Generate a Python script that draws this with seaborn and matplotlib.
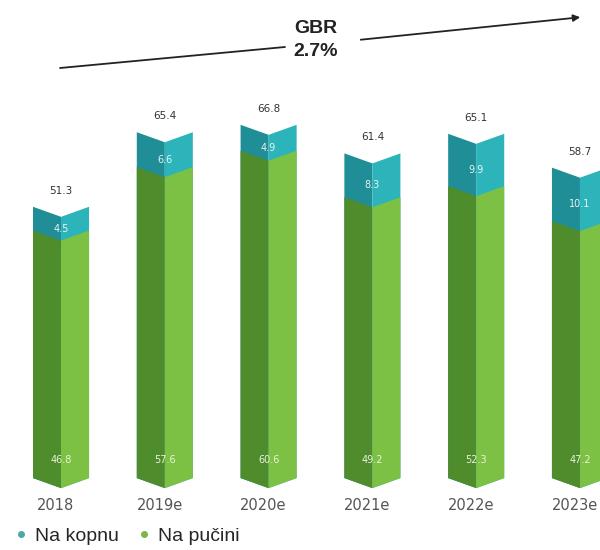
import numpy as np
import pandas as pd
import matplotlib
matplotlib.use("Agg")
import matplotlib.pyplot as plt
from matplotlib.patches import Polygon
from matplotlib.lines import Line2D
import seaborn as sns

years = ['2018', '2019e', '2020e', '2021e', '2022e', '2023e']
totals = [51.3, 65.4, 66.8, 61.4, 65.1, 58.7]
onshore = [4.5, 6.6, 4.9, 8.3, 9.9, 10.1]        # Na kopnu (teal)
offshore_labels = [46.8, 57.6, 60.6, 49.2, 52.3, 47.2]  # Na pučini (green)
cagr_label = 'GBR\n2.7%'
legend_labels = ['Na kopnu', 'Na pučini']

teal_dark, teal_light = '#1f8e96', '#2db4bb'
green_dark, green_light = '#4e8c2c', '#7cc143'

sns.set_style('white')
plt.rcParams['font.family'] = ['Liberation Sans', 'DejaVu Sans']

# long table: one row per bar face
rows = []
for y, t, o in zip(years, totals, onshore):
    for face in ['L', 'R']:
        rows.append({'year': y, 'face': face, 'total': t, 'green': t - o})
df = pd.DataFrame(rows)

fig = plt.figure(figsize=(6, 5.5), dpi=100)
ax = fig.add_axes([0, 0, 1, 1])

sns.barplot(data=df, x='year', y='total', hue='face', palette=[teal_dark, teal_light],
            width=0.54, gap=0, legend=False, ax=ax, linewidth=0, saturation=1)
sns.barplot(data=df, x='year', y='green', hue='face', palette=[green_dark, green_light],
            width=0.54, gap=0, legend=False, ax=ax, linewidth=0, saturation=1)

# turn the flat bars into a prism look (V notch on top, point at bottom)
d = 1.9
for p in list(ax.patches):
    x, y0, w, h = p.get_x(), p.get_y(), p.get_width(), p.get_height()
    c = p.get_facecolor()
    centre = round(x + w)  # left face ends at bar centre
    if abs(x + w - centre) < 1e-6:
        pts = [(x, y0), (x + w, y0 - d), (x + w, y0 + h - d), (x, y0 + h)]
    else:
        pts = [(x, y0 - d), (x + w, y0), (x + w, y0 + h), (x, y0 + h - d)]
    p.set_visible(False)
    ax.add_patch(Polygon(pts, closed=True, facecolor=c, edgecolor='none'))

ax.set_xlim(-0.588, 5.193)
ax.set_ylim(-13.6, 90.4)
ax.axis('off')

for i, (t, o, g) in enumerate(zip(totals, onshore, offshore_labels)):
    ax.text(i, t + 3.0, f'{t:.1f}', ha='center', va='center', fontsize=7.5, color='#333333',
            family='DejaVu Sans')
    ax.text(i, t - o / 2 - d, f'{o:.1f}', ha='center', va='center', fontsize=7, color='#e6f4f4',
            family='DejaVu Sans')
    ax.text(i, 3.4, f'{g:.1f}', ha='center', va='center', fontsize=7, color='#e8f3dc',
            family='DejaVu Sans')
    ax.text(i - 0.05, -5.1, years[i], ha='center', va='center', fontsize=10.5, color='#555555',
            family='DejaVu Sans')

# growth annotation
fig.text(316 / 600, 1 - 40 / 550, cagr_label, ha='center', va='center', fontsize=14,
         fontweight='bold', color='#222222', linespacing=1.5)
fig.add_artist(Line2D([60 / 600, 285 / 600], [1 - 68 / 550, 1 - 47 / 550], color='#222222', lw=1.3))
ax.annotate('', xy=(583 / 600, 1 - 17 / 550), xytext=(358 / 600, 1 - 40 / 550),
            xycoords='figure fraction', textcoords='figure fraction',
            arrowprops=dict(arrowstyle='-|>', color='#222222', lw=1.3, mutation_scale=10))

handles = [Line2D([], [], marker='o', linestyle='none', markersize=4, color='#4aa9aa'),
           Line2D([], [], marker='o', linestyle='none', markersize=4, color='#7ab648')]
fig.legend(handles, legend_labels, loc='lower left', bbox_to_anchor=(0.0, -0.012), ncol=2,
           frameon=False, fontsize=14, handletextpad=0.2, columnspacing=0.8, handlelength=1.0,
           borderaxespad=0.2)

fig.savefig('out.png', dpi=100)
